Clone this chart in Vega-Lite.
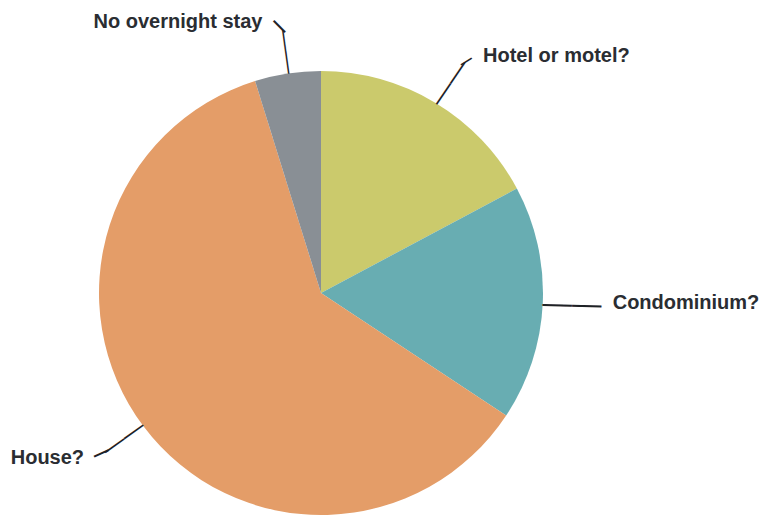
{
  "$schema": "https://vega.github.io/schema/vega-lite/v6.json",
  "width": 642,
  "height": 452,
  "autosize": {"type": "none"},
  "padding": {"left": 0, "top": 67, "right": 122, "bottom": 0},
  "background": "white",
  "view": {"stroke": null},
  "data": {
    "values": [
      {"category": "Hotel or motel?", "share": 17.2},
      {"category": "Condominium?", "share": 17.1},
      {"category": "House?", "share": 60.9},
      {"category": "No overnight stay", "share": 4.8}
    ]
  },
  "transform": [{"window": [{"op": "row_number", "as": "slice_order"}]}],
  "encoding": {
    "theta": {"field": "share", "type": "quantitative", "stack": true},
    "order": {"field": "slice_order", "type": "quantitative"}
  },
  "layer": [
    {
      "mark": {"type": "arc", "outerRadius": 222, "stroke": null},
      "encoding": {
        "color": {
          "field": "category", "type": "nominal",
          "scale": {"domain": ["Hotel or motel?", "Condominium?", "House?", "No overnight stay"], "range": ["#cbca6c", "#68adb2", "#e49d68", "#898f95"]},
          "legend": null
        }
      }
    },
    {
      "mark": {"type": "text", "radius": 246.5, "fontSize": 25.1, "font": "Liberation Sans", "angle": -55.8, "dx": 0.1, "dy": 1.6, "align": "center", "baseline": "middle", "color": "#1e2226"},
      "encoding": {
        "detail": {"field": "category", "type": "nominal"},
        "text": {"condition": {"test": "datum.category === 'Hotel or motel?'", "value": "——"}, "value": ""}
      }
    },
    {
      "mark": {"type": "text", "radius": 275.3, "fontSize": 23, "font": "Liberation Sans", "angle": -32, "dx": 0.8, "dy": 4.5, "align": "center", "baseline": "middle", "color": "#1e2226"},
      "encoding": {
        "detail": {"field": "category", "type": "nominal"},
        "text": {"condition": {"test": "datum.category === 'Hotel or motel?'", "value": "–"}, "value": ""}
      }
    },
    {
      "mark": {"type": "text", "radius": 251.2, "fontSize": 29.5, "font": "Liberation Sans", "angle": 1.5, "dx": 0, "dy": -0.5, "align": "center", "baseline": "middle", "color": "#1e2226"},
      "encoding": {
        "detail": {"field": "category", "type": "nominal"},
        "text": {"condition": {"test": "datum.category === 'Condominium?'", "value": "——"}, "value": ""}
      }
    },
    {
      "mark": {"type": "text", "radius": 245, "fontSize": 23.5, "font": "Liberation Sans", "angle": 144.5, "dx": 0, "dy": 0.5, "align": "center", "baseline": "middle", "color": "#1e2226"},
      "encoding": {
        "detail": {"field": "category", "type": "nominal"},
        "text": {"condition": {"test": "datum.category === 'House?'", "value": "——"}, "value": ""}
      }
    },
    {
      "mark": {"type": "text", "radius": 273.9, "fontSize": 28.5, "font": "Liberation Sans", "angle": 155.6, "dx": -1, "dy": 2.4, "align": "center", "baseline": "middle", "color": "#1e2226"},
      "encoding": {
        "detail": {"field": "category", "type": "nominal"},
        "text": {"condition": {"test": "datum.category === 'House?'", "value": "–"}, "value": ""}
      }
    },
    {
      "mark": {"type": "text", "radius": 243.5, "fontSize": 22, "font": "Liberation Sans", "angle": -97.8, "align": "center", "baseline": "middle", "color": "#1e2226"},
      "encoding": {
        "detail": {"field": "category", "type": "nominal"},
        "text": {"condition": {"test": "datum.category === 'No overnight stay'", "value": "——"}, "value": ""}
      }
    },
    {
      "mark": {"type": "text", "radius": 270, "fontSize": 29, "font": "Liberation Sans", "angle": -135, "dx": 0.5, "dy": -2.7, "align": "center", "baseline": "middle", "color": "#1e2226"},
      "encoding": {
        "detail": {"field": "category", "type": "nominal"},
        "text": {"condition": {"test": "datum.category === 'No overnight stay'", "value": "–"}, "value": ""}
      }
    },
    {
      "mark": {"type": "text", "radius": 280, "fontSize": 20, "fontWeight": "bold", "font": "Liberation Sans", "align": "left", "baseline": "alphabetic", "dx": 18, "dy": 9, "color": "#2a2d32"},
      "encoding": {
        "detail": {"field": "category", "type": "nominal"},
        "text": {"condition": {"test": "datum.category === 'Hotel or motel?'", "field": "category"}, "value": ""}
      }
    },
    {
      "mark": {"type": "text", "radius": 280, "fontSize": 20, "fontWeight": "bold", "font": "Liberation Sans", "align": "left", "baseline": "alphabetic", "dx": 12, "dy": 3, "color": "#2a2d32"},
      "encoding": {
        "detail": {"field": "category", "type": "nominal"},
        "text": {"condition": {"test": "datum.category === 'Condominium?'", "field": "category"}, "value": ""}
      }
    },
    {
      "mark": {"type": "text", "radius": 280, "fontSize": 20, "fontWeight": "bold", "font": "Liberation Sans", "align": "right", "baseline": "alphabetic", "dx": -13, "dy": 3, "color": "#2a2d32"},
      "encoding": {
        "detail": {"field": "category", "type": "nominal"},
        "text": {"condition": {"test": "datum.category === 'House?'", "field": "category"}, "value": ""}
      }
    },
    {
      "mark": {"type": "text", "radius": 270, "fontSize": 20, "fontWeight": "bold", "font": "Liberation Sans", "align": "right", "baseline": "alphabetic", "dx": -18, "dy": 2, "color": "#2a2d32"},
      "encoding": {
        "detail": {"field": "category", "type": "nominal"},
        "text": {"condition": {"test": "datum.category === 'No overnight stay'", "value": "No overnight stay"}, "value": ""}
      }
    }
  ]
}
